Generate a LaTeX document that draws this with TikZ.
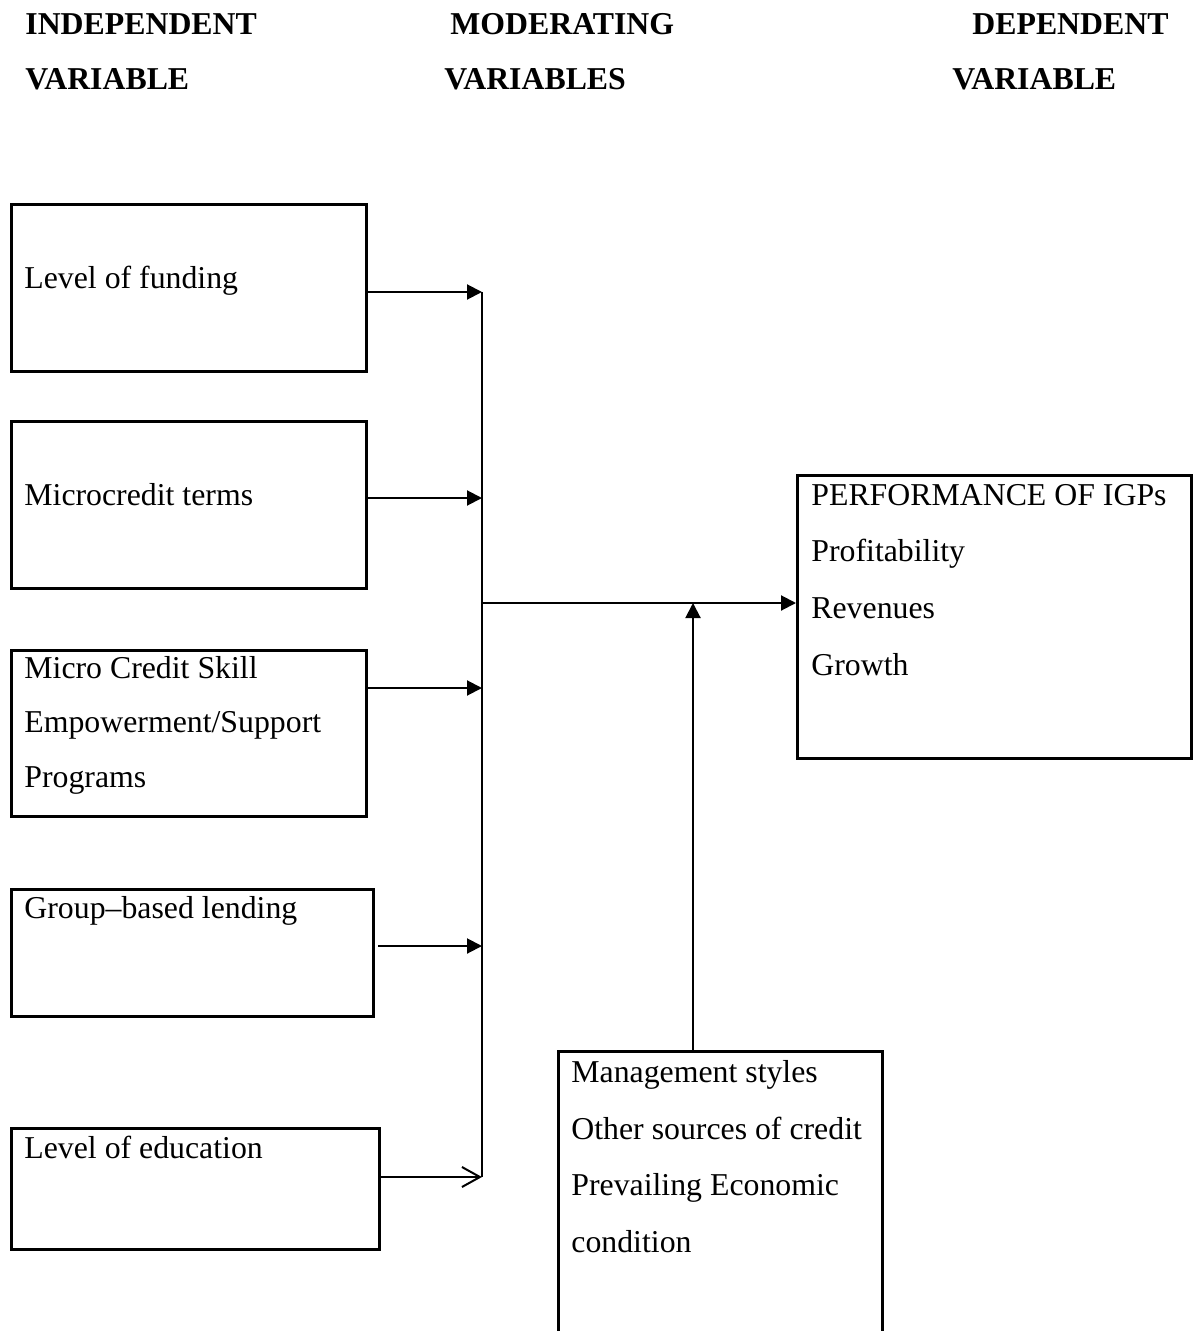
\documentclass[tikz,border=0pt]{standalone}
\usepackage{fontspec}
\setmainfont{Liberation Serif}
\usetikzlibrary{arrows.meta, positioning}

\begin{document}
\begin{tikzpicture}[x=0.5pt,y=-0.5pt,
	every node/.style={inner sep=0pt,anchor=base west,font=\fontsize{15.9}{28}\selectfont},
	hdr/.style={font=\fontsize{15.9}{28}\selectfont\bfseries},
	box/.style={draw,line width=1.5pt,rectangle,anchor=north west},
	txt/.style={align=left},
	arr/.style={line width=1pt,-{Triangle[length=7.5pt,width=7.5pt]}},
	openarr/.style={line width=1pt,-{Straight Barb[length=9pt,width=10pt]}},
	bar/.style={line width=1pt}]
									\useasboundingbox (0,0) rectangle (1197,1331);
									\clip (0,0) rectangle (1197,1331);
									\node[hdr] (indep) at (25,35) {INDEPENDENT};
									\node[hdr] (indepv) at (25,90) {VARIABLE};
									\node[hdr] (moder) at (450,35) {MODERATING};
									\node[hdr] (moderv) at (444,90) {VARIABLES};
									\node[hdr] (dep) at (972,35) {DEPENDENT};
									\node[hdr] (depv) at (952,90) {VARIABLE};
									\node[box,minimum width=177.5pt,minimum height=83.5pt] (fund) at (10,203) {};
									\node[box,minimum width=177.5pt,minimum height=83.5pt] (terms) at (10,420) {};
									\node[box,minimum width=177.5pt,minimum height=83pt] (skill) at (10,649) {};
									\node[box,minimum width=181pt,minimum height=63.5pt] (group) at (10,888) {};
									\node[box,minimum width=184pt,minimum height=60.5pt] (edu) at (10,1127) {};
									\node[box,minimum width=197pt,minimum height=141.5pt] (perf) at (796,474) {};
									\node[box,minimum width=162pt,minimum height=150pt] (mod) at (557,1050) {};
									\node (fundT) at (24,289) {Level of funding};
									\node (termsT) at (24,505) {Microcredit terms};
									\node[txt,font=\fontsize{15.9}{27.25}\selectfont] (skillT) at (24,787) {Micro Credit Skill\\Empowerment/Support\\Programs};
									\node (groupT) at (24,918) {Group–based lending};
									\node (eduT) at (24,1158) {Level of education};
									\node[txt,font=\fontsize{15.9}{28.3}\selectfont] (perfT) at (811,675) {PERFORMANCE OF IGPs\\Profitability\\Revenues\\Growth};
									\node[txt,font=\fontsize{15.9}{28.2}\selectfont] (modT) at (571,1252) {Management styles\\Other sources of credit\\Prevailing Economic\\condition};
									\coordinate (top) at (482,292);
									\coordinate (a2) at (482,498);
									\coordinate (a3) at (482,688);
									\coordinate (a4) at (482,946);
									\coordinate (bot) at (482,1177);
									\coordinate (j) at (482,603);
									\coordinate (m) at (693,603);
									\draw[bar] (top) -- (bot);
									\draw[arr] (fund.east |- top) -- (top);
									\draw[arr] (terms.east |- a2) -- (a2);
									\draw[arr] (skill.east |- a3) -- (a3);
									\draw[arr] ([xshift=1.5pt]group.east |- a4) -- (a4);
									\draw[openarr] (edu.east |- bot) -- (bot);
									\draw[arr] (j) -- (j -| perf.west);
									\draw[arr] (m |- mod.north) -- (m);
								\end{tikzpicture}
\end{document}
